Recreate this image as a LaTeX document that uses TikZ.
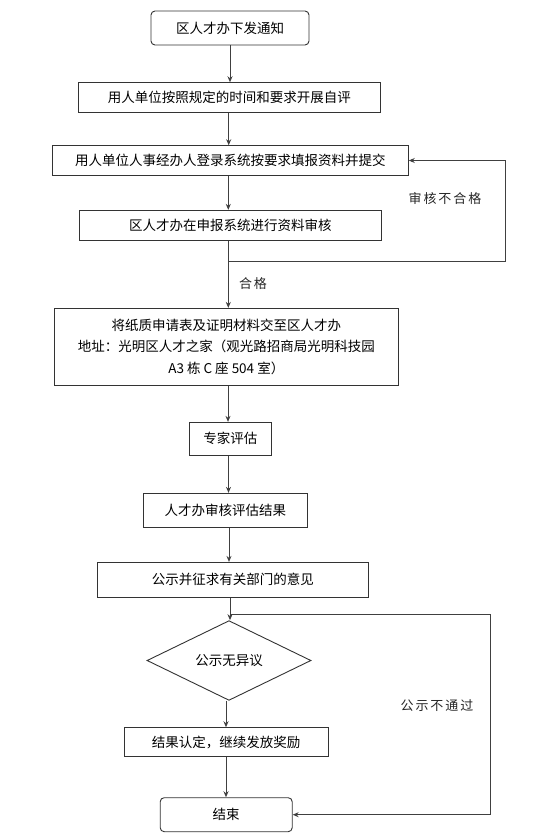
\documentclass[tikz,border=0pt]{standalone}
\usepackage{fontspec}
\setmainfont{Noto Sans CJK SC}
\newfontfamily\lblfont[LetterSpace=15]{Noto Sans CJK SC}
\usetikzlibrary{arrows.meta,shapes.geometric}
\begin{document}
\begin{tikzpicture}[x=1pt,y=-1pt,
  line width=0.9pt,
  box/.style={draw=black!80, line width=0.9pt, rectangle, inner sep=0pt, font=\fontsize{13.5}{16}\selectfont, align=center},
  rbox/.style={box, rounded corners=4pt},
  dia/.style={draw=black!80, line width=0.9pt, diamond, inner sep=0pt, font=\fontsize{13.5}{16}\selectfont},
  arr/.style={draw=black!75, -{Stealth[length=6pt,width=5pt]}},
  ln/.style={draw=black!75},
  lbl/.style={font=\lblfont\fontsize{13}{15}\selectfont, text=black!85}
]
\path[use as bounding box, fill=white] (0,0) rectangle (560,836);

\node[rbox, minimum width=158pt, minimum height=34pt] (n1) at (230,28) {区人才办下发通知};
\node[box, minimum width=302pt, minimum height=29.6pt] (n2) at (229.3,97.5) {用人单位按照规定的时间和要求开展自评};
\node[box, minimum width=356pt, minimum height=29.6pt] (n3) at (230.3,160.5) {用人单位人事经办人登录系统按要求填报资料并提交};
\node[box, minimum width=302pt, minimum height=30pt] (n4) at (230.3,225.3) {区人才办在申报系统进行资料审核};
\node[box, minimum width=344pt, minimum height=76.7pt, font=\fontsize{13.5}{21.5}\selectfont] (n5) at (226.3,346.7) {将纸质申请表及证明材料交至区人才办\\地址：光明区人才之家（观光路招商局光明科技园\\A3 栋 C 座 504 室）};
\node[box, minimum width=82pt, minimum height=33pt] (n6) at (230.3,438.8) {专家评估};
\node[box, minimum width=164pt, minimum height=34pt] (n7) at (225.3,510.3) {人才办审核评估结果};
\node[box, minimum width=271pt, minimum height=34.7pt] (n8) at (232.8,579.7) {公示并征求有关部门的意见};
\node[dia, minimum width=164pt, minimum height=52.4pt] (d1) at (229,660.5) {公示无异议};
\node[box, minimum width=204pt, minimum height=29pt] (n9) at (226.2,742.2) {结果认定，继续发放奖励};
\node[rbox, minimum width=132pt, minimum height=34pt] (n10) at (226.2,814.7) {结束};

\coordinate (fa) at (228.3,261.7);
\coordinate (fb) at (505.7,261.7);
\coordinate (ga) at (230,614);
\coordinate (gb) at (490.7,614);

\draw[arr] (n1.south) -- (n1.south |- n2.north);
\draw[arr] (n2.south -| 228.7,0) -- (228.7,0 |- n3.north);
\draw[arr] (n3.south -| 228.3,0) -- (228.3,0 |- n4.north);
\draw[arr] (n4.south -| fa) -- (fa |- n5.north);
\draw[ln] (fa) -- (fb);
\draw[arr] (fb) -- (fb |- n3.east) -- (n3.east);
\draw[arr] (n5.south -| 228,0) -- (228,0 |- n6.north);
\draw[arr] (n6.south -| 228.5,0) -- (228.5,0 |- n7.north);
\draw[arr] (n7.south -| 229,0) -- (229,0 |- n8.north);
\draw[arr] (n8.south -| ga) -- (ga |- d1.north);
\draw[ln] (ga) -- (gb);
\draw[arr] (gb) -- (gb |- n10.east) -- (n10.east);
\draw[arr] (d1.south -| 226,0) -- (226,0 |- n9.north);
\draw[arr] (n9.south -| 226,0) -- (226,0 |- n10.north);

\node[lbl] (l1) at (445,199) {审核不合格};
\node[lbl] (l2) at (253,284) {合格};
\node[lbl] (l3) at (437,706) {公示不通过};
\end{tikzpicture}
\end{document}
